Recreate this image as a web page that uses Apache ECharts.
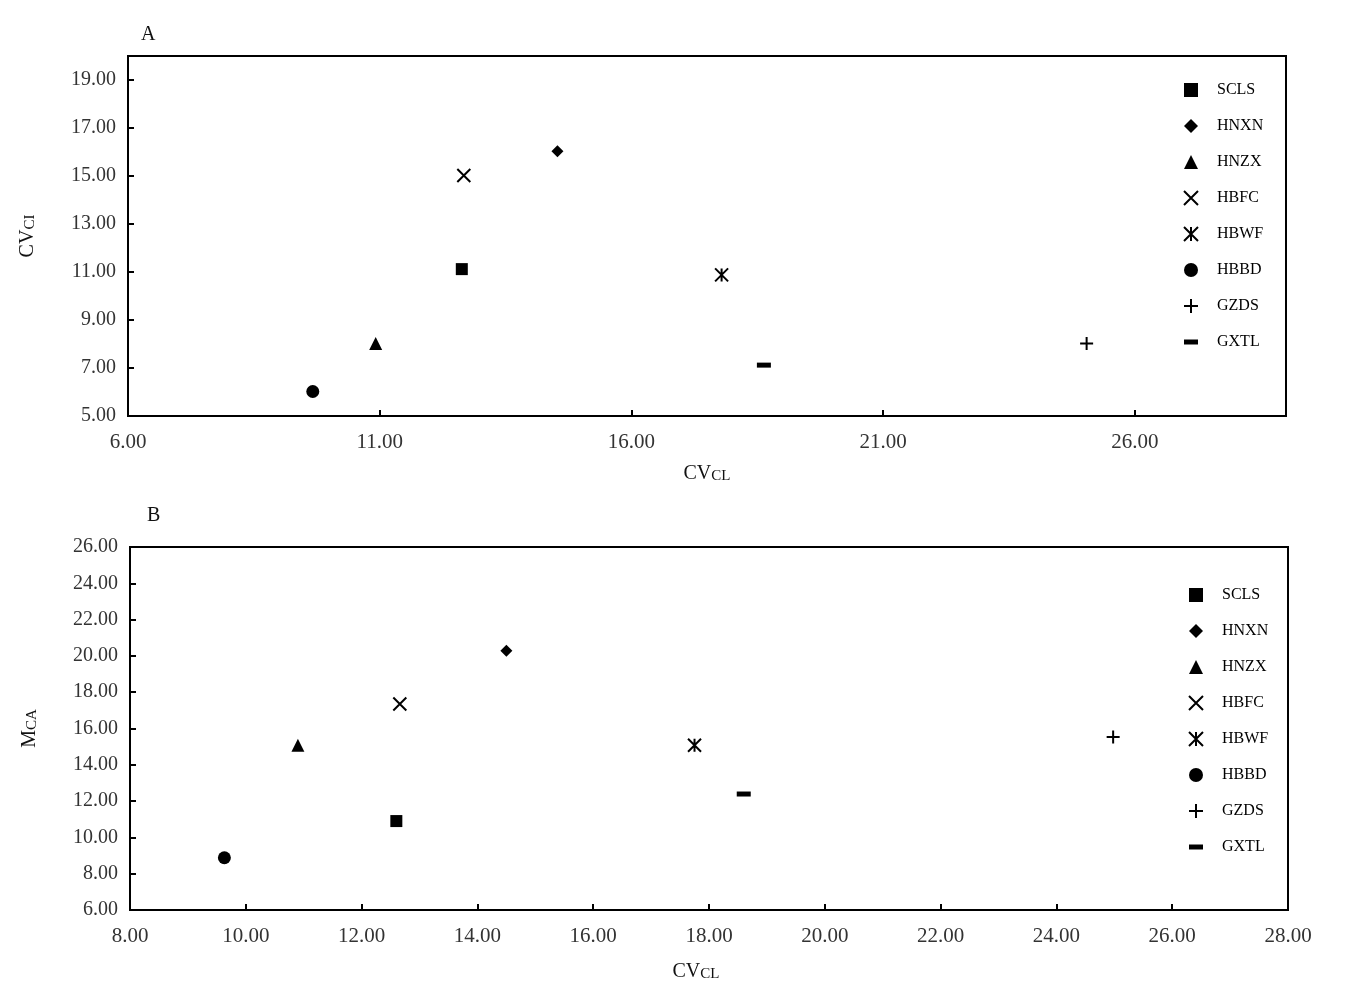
<!DOCTYPE html>
<html><head><meta charset="utf-8">
<script src="https://cdn.jsdelivr.net/npm/echarts@6/dist/echarts.min.js"></script>
<style>html,body{margin:0;padding:0;background:#fff}#c{width:1357px;height:983px}</style>
</head><body><div id="c"></div>
<script>
// Sample names
const names = ['SCLS','HNXN','HNZX','HBFC','HBWF','HBBD','GZDS','GXTL'];
// Panel A: CVCL (x) vs CVCI (y)
const cvclA = [12.63, 14.53, 10.92, 12.67, 17.79, 9.67, 25.04, 18.63];
const cvciA = [11.12, 16.03, 8.02, 15.02, 10.88, 6.02, 8.02, 7.12];
// Panel B: CVCL (x) vs MCA (y)
const cvclB = [12.60, 14.50, 10.90, 12.66, 17.75, 9.63, 24.98, 18.60];
const mcaB = [10.90, 20.28, 15.08, 17.35, 15.08, 8.88, 15.53, 12.39];
// Tick labels
const xTicksA = [6, 11, 16, 21, 26];
const yTicksA = [5, 7, 9, 11, 13, 15, 17, 19];
const xTicksB = [8, 10, 12, 14, 16, 18, 20, 22, 24, 26, 28];
const yTicksB = [6, 8, 10, 12, 14, 16, 18, 20, 22, 24, 26];

const symbols = {
  SCLS: {symbol: 'rect', size: 12, stroke: false},
  HNXN: {symbol: 'diamond', size: 12, stroke: false},
  HNZX: {symbol: 'triangle', size: 13, stroke: false},
  HBFC: {symbol: 'path://M0,0L10,10M10,0L0,10', size: 13, stroke: true},
  HBWF: {symbol: 'path://M0,0L10,10M10,0L0,10M5,0L5,10', size: 13, stroke: true},
  HBBD: {symbol: 'circle', size: 13, stroke: false},
  GZDS: {symbol: 'path://M5,0L5,10M0,5L10,5', size: 13, stroke: true},
  GXTL: {symbol: 'path://M0,0L14,0L14,5L0,5Z', size: [14,5], stroke: false}
};

const serif = '"Liberation Serif","DejaVu Serif",serif';
const chart = echarts.init(document.getElementById('c'));

function axisName(main, sub) {
  return '{m|' + main + '}{s|' + sub + '}';
}
const nameRich = {
  m: {fontFamily: serif, fontSize: 20, color: '#111'},
  s: {fontFamily: serif, fontSize: 15, color: '#111', padding: [4,0,0,0]}
};

function makeX(idx, min, max, ticks, nameY, pad) {
  return {
    type: 'value', gridIndex: idx, min: min, max: max,
    splitLine: {show: false},
    axisLine: {lineStyle: {color: '#000', width: 2}},
    axisTick: {inside: true, length: 6, lineStyle: {color: '#000', width: 2}, customValues: ticks},
    axisLabel: {customValues: ticks, formatter: v => v.toFixed(2), fontFamily: serif, fontSize: 21, color: '#333', margin: 16},
    name: axisName('CV', 'CL'), nameLocation: 'middle', nameGap: nameY,
    nameTextStyle: {rich: nameRich, padding: pad}
  };
}
function makeY(idx, min, max, ticks, main, sub) {
  return {
    type: 'value', gridIndex: idx, min: min, max: max,
    splitLine: {show: false},
    axisLine: {lineStyle: {color: '#000', width: 2}},
    axisTick: {inside: true, length: 6, lineStyle: {color: '#000', width: 2}, customValues: ticks},
    axisLabel: {customValues: ticks, formatter: v => v.toFixed(2), fontFamily: serif, fontSize: 20, color: '#333', margin: 12},
    name: axisName(main, sub), nameLocation: 'middle', nameGap: 90, nameRotate: 90,
    nameTextStyle: {rich: nameRich}
  };
}

const series = [];
[[cvclA, cvciA, 0], [cvclB, mcaB, 1]].forEach(([xs, ys, gi]) => {
  names.forEach((n, i) => {
    const s = symbols[n];
    series.push({
      name: n, type: 'scatter', xAxisIndex: gi, yAxisIndex: gi,
      symbol: s.symbol, symbolSize: s.size,
      itemStyle: s.stroke ? {color: '#000', borderColor: '#000', borderWidth: 2, opacity: 1} : {color: '#000', borderWidth: 0, opacity: 1},
      data: [[xs[i], ys[i]]]
    });
  });
});

const legendBase = {
  orient: 'vertical', data: names, itemWidth: 14, itemHeight: 14, itemGap: 20,
  textStyle: {fontFamily: serif, fontSize: 16, color: '#000', padding: [0,0,0,14]},
  selectedMode: false
};

chart.setOption({
  animation: false,
  backgroundColor: '#fff',
  title: [
    {text: 'A', left: 136, top: 20, textStyle: {fontFamily: serif, fontSize: 20, fontWeight: 'normal', color: '#111'}},
    {text: 'B', left: 142, top: 501, textStyle: {fontFamily: serif, fontSize: 20, fontWeight: 'normal', color: '#111'}}
  ],
  grid: [
    {left: 128, top: 56, width: 1158, height: 360, show: true, borderColor: '#000', borderWidth: 2, containLabel: false, outerBoundsMode: 'none'},
    {left: 130, top: 547, width: 1158, height: 363, show: true, borderColor: '#000', borderWidth: 2, containLabel: false, outerBoundsMode: 'none'}
  ],
  xAxis: [makeX(0, 6, 29, xTicksA, 48, [0,0,0,0]), makeX(1, 8, 28, xTicksB, 52, [0,26,0,0])],
  yAxis: [makeY(0, 5, 20, yTicksA, 'CV', 'CI'), makeY(1, 6, 26, yTicksB, 'M', 'CA')],
  legend: [
    Object.assign({}, legendBase, {left: 1178, top: 77}),
    Object.assign({}, legendBase, {left: 1183, top: 582})
  ],
  series: series
});
</script>
</body></html>
